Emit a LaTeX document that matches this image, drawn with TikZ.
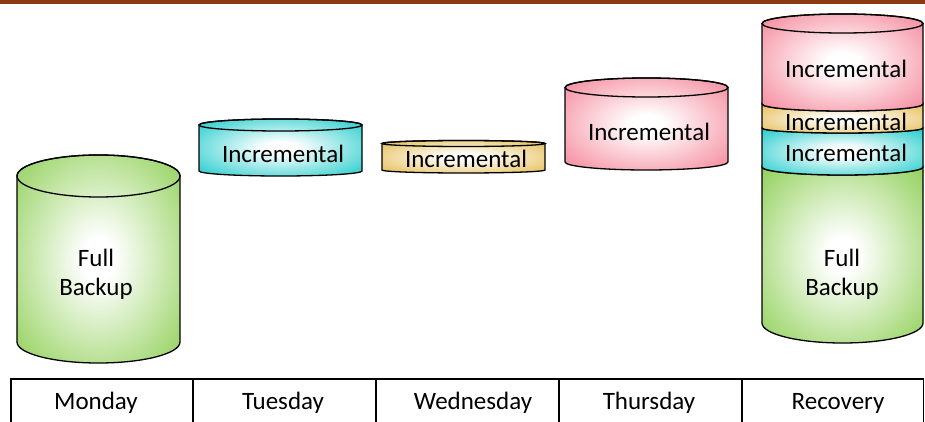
\documentclass[tikz,border=0pt]{standalone}
\usepackage{fontspec}
\setmainfont{Carlito}
\definecolor{barbrown}{RGB}{139,58,18}
\definecolor{fullgreen}{RGB}{140,206,82}
\definecolor{incpink}{RGB}{244,128,148}
\definecolor{incgold}{RGB}{228,184,72}
\definecolor{inccyan}{RGB}{20,200,200}
\colorlet{drumcol}{fullgreen}
% soft radial glow: white centre fading to the drum colour towards the rim
\pgfdeclareradialshading[drumcol]{glow}{\pgfpointorigin}{%
  color(0bp)=(white); color(5bp)=(white); color(37bp)=(drumcol); color(50bp)=(drumcol)}
\tikzset{
  rim/.style={draw=black, line width=1.3pt},
  label/.style={font=\fontsize{25}{29}\selectfont, align=center, inner sep=0pt},
  grid/.style={draw=black, line width=1.1pt},
}
% full drum: left x, right x, top centre y, top radius y, bottom centre y, bottom radius y, colour
\newcommand\drum[7]{%
  \pgfmathsetmacro\drx{(#2-#1)/2}%
  \pgfmathsetmacro\dcx{(#1+#2)/2}%
  \colorlet{drumcol}{#7}%
  \path[rim, shading=glow]
    (#1,#3) -- (#1,#5)
    arc[start angle=180, end angle=360, x radius=\drx pt, y radius=#6pt]
    -- (#2,#3)
    arc[start angle=0, end angle=180, x radius=\drx pt, y radius=#4pt] -- cycle;
  \draw[rim] (\dcx,#3) ellipse[x radius=\drx pt, y radius=#4pt];
}
% stacked band between two lower rim curves
\newcommand\band[7]{%
  \pgfmathsetmacro\drx{(#2-#1)/2}%
  \colorlet{drumcol}{#7}%
  \path[rim, shading=glow]
    (#1,#3) -- (#1,#5)
    arc[start angle=180, end angle=360, x radius=\drx pt, y radius=#6pt]
    -- (#2,#3)
    arc[start angle=360, end angle=180, x radius=\drx pt, y radius=#4pt] -- cycle;
}
\begin{document}
\begin{tikzpicture}[x=1pt, y=-1pt]
  \useasboundingbox (0,0) rectangle (925,422);
  % header bar
  \fill[barbrown] (0,0) rectangle (925,4);

  % day drums
  \drum{17}{180}{176}{21}{342}{21}{fullgreen}
  \drum{199}{362}{125}{6}{171}{5}{inccyan}
  \drum{382}{545}{143.5}{3}{170}{3}{incgold}
  \drum{565}{728}{87.5}{9.5}{162}{8}{incpink}

  % recovery stack
  \band{762}{923}{167}{8}{323}{20}{fullgreen}
  \band{762}{923}{128}{5}{167}{8}{inccyan}
  \band{762}{923}{104}{7}{128}{5}{incgold}
  \drum{762}{923}{23.5}{9.5}{104}{7}{incpink}

  % drum labels
  \node[label] (monfull) at (96,274) {Full\\Backup};
  \node[label] (tueinc)  at (283,154) {Incremental};
  \node[label] (wedinc)  at (466,159) {Incremental};
  \node[label] (thuinc)  at (649,132) {Incremental};
  \node[label] (recpink) at (846,69)  {Incremental};
  \node[label] (recgold) at (846,122) {Incremental};
  \node[label] (reccyan) at (846,153) {Incremental};
  \node[label] (recfull) at (842,274) {Full\\Backup};

  % day table
  \draw[grid] (11,430) -- (11,379) -- (923.5,379) -- (923.5,430);
  \foreach \xx in {193,376,559,742} \draw[grid] (\xx,379) -- (\xx,430);
  \node[label] (mon) at (96,403)  {Monday};
  \node[label] (tue) at (283,403) {Tuesday};
  \node[label] (wed) at (473,403) {Wednesday};
  \node[label] (thu) at (649,403) {Thursday};
  \node[label] (rec) at (838,403) {Recovery};
\end{tikzpicture}
\end{document}
